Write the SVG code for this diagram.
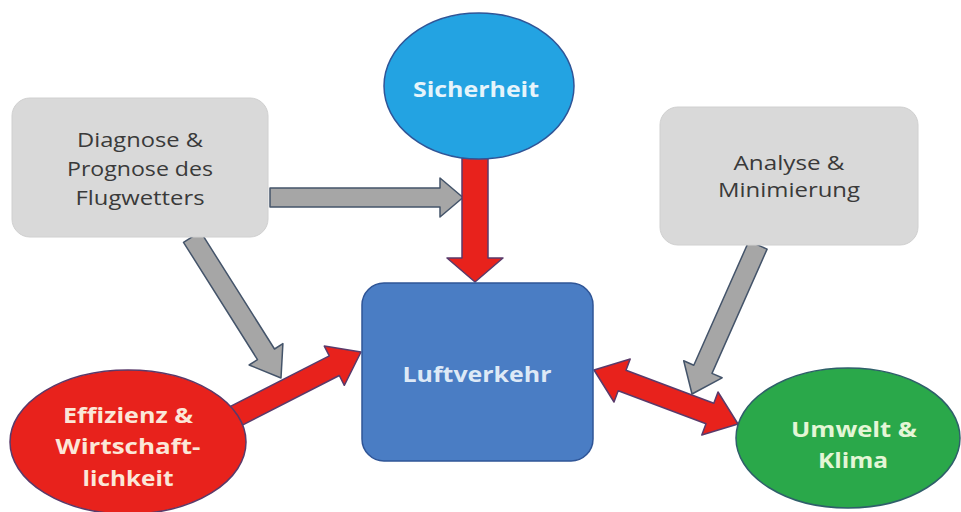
<svg xmlns="http://www.w3.org/2000/svg" width="961" height="512" viewBox="0 0 961 512">
<style>
.gbox{fill:#d9d9d9;stroke:#d0d0d0;stroke-width:1}
.gtxt{font-family:"Open Sans","Liberation Sans",sans-serif;font-size:20px;fill:#3a3a3a;font-weight:500;text-anchor:middle}
.btxt{font-family:"Open Sans","Liberation Sans",sans-serif;font-size:22px;font-weight:700;text-anchor:middle}
.red{fill:#e8221c;stroke:#5a3a6a;stroke-width:1.5;stroke-linejoin:round}
.gray{fill:#a6a6a6;stroke:#44546a;stroke-width:1.5;stroke-linejoin:round}
</style>
<rect width="961" height="512" fill="#ffffff"/>
<g id="connectors">
<polygon class="gray" points="270,188 440,188 440,178 463,197.5 440,217 440,207 270,207"/>
<polygon class="red" points="462,158 488,158 488,258 503,258 475,282 447,258 462,258"/>
<polygon class="gray" points="200.5,231.7 274.5,349 282.9,343.6 281,378 249.1,365 257.5,359.6 183.5,242.3"/>
<polygon class="red" points="227,408.2 329.3,355.9 324.3,346.1 361,352 344.3,385.3 339.3,375.5 237,427.8"/>
<polygon class="red" points="594,370 630.2,359 626,370.2 713.8,403.2 718,392 738,424 701.8,435 706,423.8 618.2,390.8 614,402"/>
<polygon class="gray" points="767.1,249.1 712,373.4 722.1,377.8 692,394 683.7,360.8 693.8,365.2 748.9,241"/>
</g>
<g id="diagnose">
<rect class="gbox" x="12" y="98" width="256" height="139" rx="18"/>
<text class="gtxt" x="140" y="147" textLength="126" lengthAdjust="spacingAndGlyphs">Diagnose &amp;</text>
<text class="gtxt" x="140" y="176" textLength="146" lengthAdjust="spacingAndGlyphs">Prognose des</text>
<text class="gtxt" x="140" y="205" textLength="129" lengthAdjust="spacingAndGlyphs">Flugwetters</text>
</g>
<g id="analyse">
<rect class="gbox" x="660" y="107" width="258" height="138" rx="18"/>
<text class="gtxt" x="789" y="170" textLength="111" lengthAdjust="spacingAndGlyphs">Analyse &amp;</text>
<text class="gtxt" x="789" y="197" textLength="142" lengthAdjust="spacingAndGlyphs">Minimierung</text>
</g>
<g id="sicherheit">
<ellipse cx="479" cy="86" rx="95" ry="73" fill="#23a3e2" stroke="#2f5597" stroke-width="1.5"/>
<text class="btxt" x="476" y="97" fill="#e6f4fb" textLength="126" lengthAdjust="spacingAndGlyphs">Sicherheit</text>
</g>
<g id="luftverkehr">
<rect x="362" y="283" width="231" height="178" rx="22" fill="#4a7dc4" stroke="#2f5597" stroke-width="1.5"/>
<text class="btxt" x="477" y="382" fill="#dde9f6" textLength="149" lengthAdjust="spacingAndGlyphs">Luftverkehr</text>
</g>
<g id="effizienz">
<ellipse cx="128" cy="442" rx="118" ry="72" fill="#e8221c" stroke="#5a3a6a" stroke-width="1.5"/>
<text class="btxt" x="128" y="423" fill="#fbe7d8" textLength="130" lengthAdjust="spacingAndGlyphs">Effizienz &amp;</text>
<text class="btxt" x="128" y="454" fill="#fbe7d8" textLength="145" lengthAdjust="spacingAndGlyphs">Wirtschaft-</text>
<text class="btxt" x="128" y="486" fill="#fbe7d8" textLength="91" lengthAdjust="spacingAndGlyphs">lichkeit</text>
</g>
<g id="umwelt">
<ellipse cx="848" cy="438" rx="112" ry="70" fill="#2aa84a" stroke="#2f5f6a" stroke-width="1.5"/>
<text class="btxt" x="854" y="437" fill="#e4f6d6" textLength="126" lengthAdjust="spacingAndGlyphs">Umwelt &amp;</text>
<text class="btxt" x="853" y="468" fill="#e4f6d6" textLength="70" lengthAdjust="spacingAndGlyphs">Klima</text>
</g>
</svg>
